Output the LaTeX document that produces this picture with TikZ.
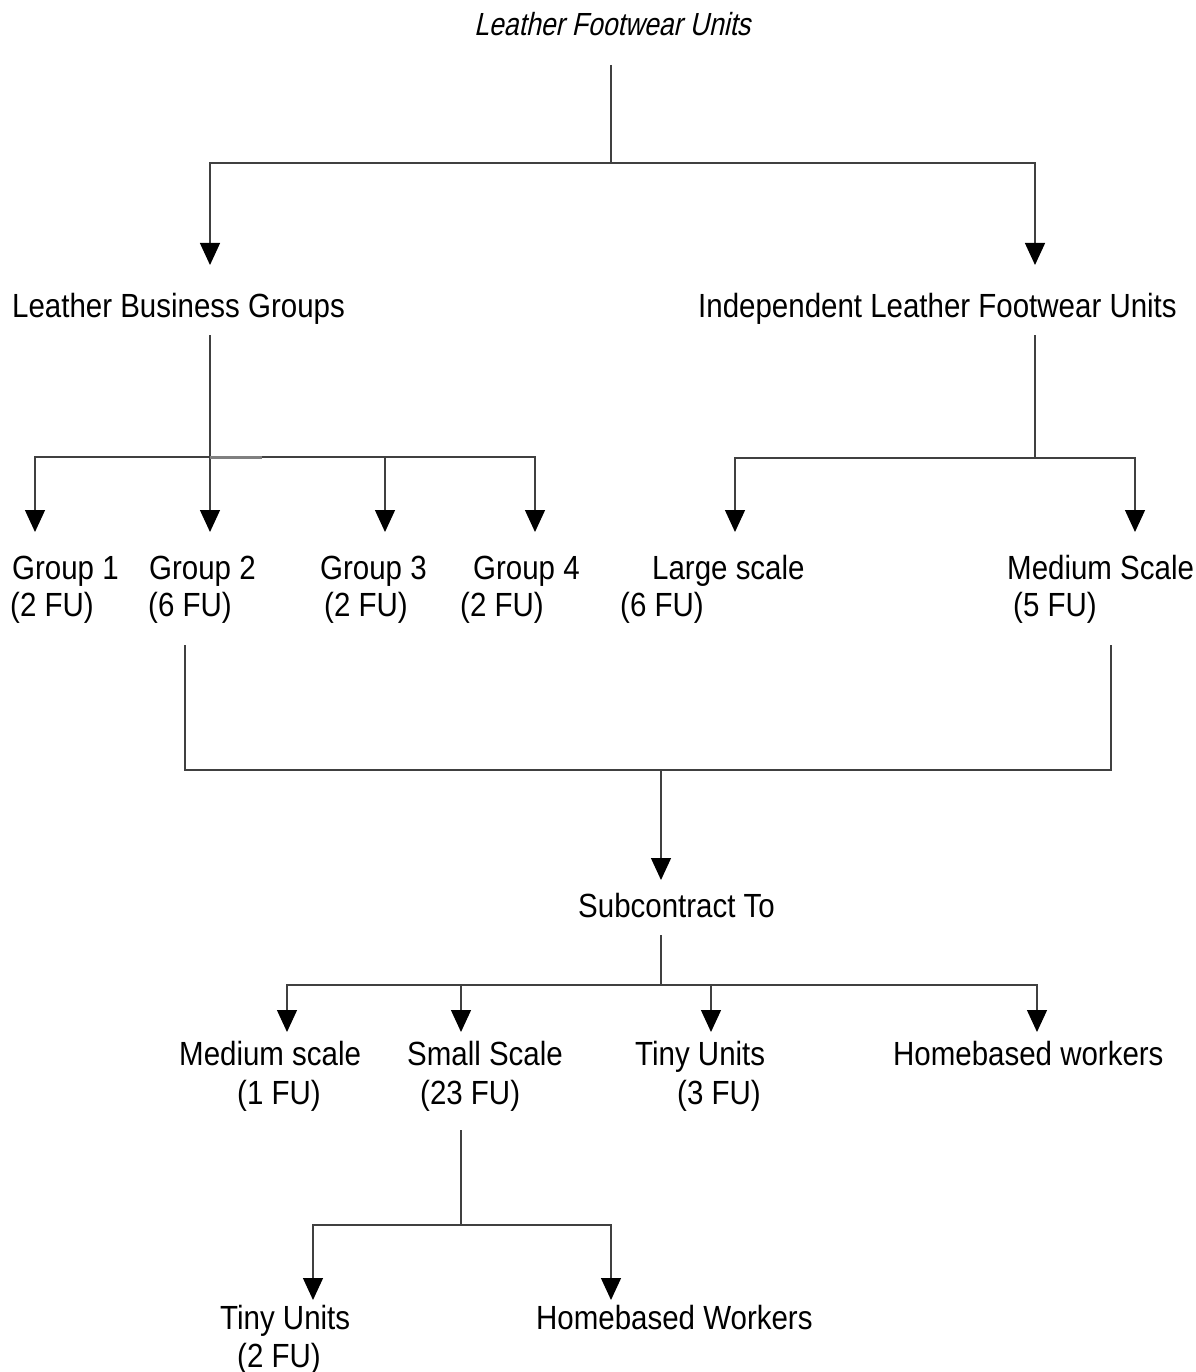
\documentclass[tikz,border=0pt]{standalone}
\usepackage{fontspec}
\setmainfont{Liberation Sans}[FakeStretch=0.88]
\newfontfamily\titlefont{Liberation Sans}[FakeStretch=0.83,FakeSlant=0.22]
\usetikzlibrary{arrows.meta}
\begin{document}
\begin{tikzpicture}[x=1pt,y=-1pt,
  lbl/.style={anchor=base west,inner sep=0,font=\fontsize{33.5}{40}\selectfont},
  ln/.style={draw=black!75,line width=1.3pt},
  arr/.style={ln,-{Triangle[width=20pt,length=22pt,color=black]}}]
\useasboundingbox[fill=white] (0,0) rectangle (1195,1372);
% texts
\node[anchor=base west,inner sep=0,font=\titlefont\fontsize{32}{38}\selectfont] (title) at (474,36) {Leather Footwear Units};
\node[lbl] (lbg) at (12,317) {Leather Business Groups};
\node[lbl] (ilf) at (698,317) {Independent Leather Footwear Units};
\node[lbl] (g1) at (12,579) {Group 1};
\node[lbl] (g1n) at (10,616) {(2 FU)};
\node[lbl] (g2) at (149,579) {Group 2};
\node[lbl] (g2n) at (148,616) {(6 FU)};
\node[lbl] (g3) at (320,579) {Group 3};
\node[lbl] (g3n) at (324,616) {(2 FU)};
\node[lbl] (g4) at (473,579) {Group 4};
\node[lbl] (g4n) at (460,616) {(2 FU)};
\node[lbl] (ls) at (652,579) {Large scale};
\node[lbl] (lsn) at (620,616) {(6 FU)};
\node[lbl] (ms) at (1007,579) {Medium Scale};
\node[lbl] (msn) at (1013,616) {(5 FU)};
\node[lbl] (sub) at (578,917) {Subcontract To};
\node[lbl] (m1) at (179,1065) {Medium scale};
\node[lbl] (m1n) at (237,1104) {(1 FU)};
\node[lbl] (ss) at (407,1065) {Small Scale};
\node[lbl] (ssn) at (420,1104) {(23 FU)};
\node[lbl] (tu) at (635,1065) {Tiny Units};
\node[lbl] (tun) at (677,1104) {(3 FU)};
\node[lbl] (hw) at (893,1065) {Homebased workers};
\node[lbl] (tu2) at (220,1329) {Tiny Units};
\node[lbl] (tu2n) at (237,1367) {(2 FU)};
\node[lbl] (hw2) at (536,1329) {Homebased Workers};
% coordinates
\coordinate (t0) at (611,65);
\coordinate (j0) at (611,163);
\coordinate (aL) at (210,265);
\coordinate (aR) at (1035,265);
\coordinate (bL) at (210,335);
\coordinate (jL) at (210,457);
\coordinate (ag1) at (35,532);
\coordinate (ag2) at (210,532);
\coordinate (ag3) at (385,532);
\coordinate (ag4) at (535,532);
\coordinate (bR) at (1035,335);
\coordinate (jR) at (1035,458);
\coordinate (als) at (735,532);
\coordinate (ams) at (1135,532);
\coordinate (cL) at (185,645);
\coordinate (cR) at (1111,645);
\coordinate (jM) at (661,770);
\coordinate (asub) at (661,880);
\coordinate (s0) at (661,935);
\coordinate (jS) at (661,985);
\coordinate (am1) at (287,1032);
\coordinate (ass) at (461,1032);
\coordinate (atu) at (711,1032);
\coordinate (ahw) at (1037,1032);
\coordinate (d0) at (461,1130);
\coordinate (jD) at (461,1225);
\coordinate (atu2) at (313,1300);
\coordinate (ahw2) at (611,1300);
% connectors
\draw[ln] (t0) -- (j0);
\draw[arr] (j0) -| (aL);
\draw[arr] (j0) -| (aR);
\draw[arr] (bL) -- (ag2);
\draw[arr] (jL) -| (ag1);
\draw[arr] (jL) -| (ag3);
\draw[arr] (jL) -| (ag4);
\draw[black!50,line width=3pt] (jL) -- ++(52,0);
\draw[ln] (bR) -- (jR);
\draw[arr] (jR) -| (als);
\draw[arr] (jR) -| (ams);
\draw[ln] (cL) |- (jM) -| (cR);
\draw[arr] (jM) -- (asub);
\draw[ln] (s0) -- (jS);
\draw[arr] (jS) -| (am1);
\draw[arr] (jS) -| (ass);
\draw[arr] (jS) -| (atu);
\draw[arr] (jS) -| (ahw);
\draw[ln] (d0) -- (jD);
\draw[arr] (jD) -| (atu2);
\draw[arr] (jD) -| (ahw2);
\end{tikzpicture}
\end{document}
